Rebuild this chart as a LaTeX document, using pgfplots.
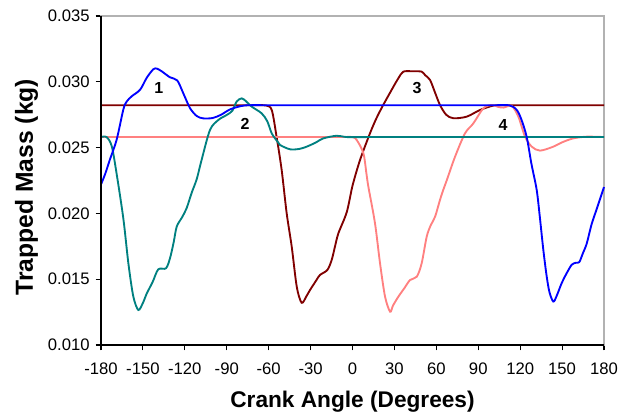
\documentclass[border=0pt]{standalone}
\usepackage{pgfplots}
\pgfplotsset{compat=1.18}
\usepackage{fontspec}
\setmainfont{Liberation Sans}
\definecolor{c1}{RGB}{0,0,255}
\definecolor{c2}{RGB}{0,128,128}
\definecolor{c3}{RGB}{128,0,0}
\definecolor{c4}{RGB}{255,128,128}
\begin{document}
\begin{tikzpicture}[x=1pt,y=1pt]
\useasboundingbox (0,0) rectangle (475.5,312);
\begin{axis}[
  at={(75.75pt,53.25pt)}, anchor=south west,
  scale only axis, width=377.25pt, height=246.75pt,
  xmin=-180, xmax=180, ymin=0.010, ymax=0.035,
  xtick={-180,-150,...,180}, ytick={0.010,0.015,...,0.0351},
  scaled y ticks=false,
  yticklabel style={/pgf/number format/fixed,/pgf/number format/fixed zerofill,/pgf/number format/precision=3, xshift=-1pt},
  /pgf/number format/assume math mode=true,
  tick align=outside, xtick pos=bottom, ytick pos=left,
  major tick length=4pt,
  tick style={black, line width=0.8pt},
  ticklabel style={font=\fontsize{12.5}{14}\selectfont},
  xticklabel style={yshift=-6pt},
  axis line style={draw=gray!60, line width=0.8pt},
  xlabel={\bfseries Crank Angle (Degrees)},
  ylabel={\bfseries Trapped Mass (kg)},
  xlabel style={font=\fontsize{17}{19}\selectfont, at={(axis description cs:0.5,-0.173)}, anchor=center},
  ylabel style={font=\fontsize{18.5}{20}\selectfont, at={(axis description cs:-0.148,0.48)}, anchor=center},
  clip=false,
  every axis plot/.append style={line width=1.4pt, smooth, tension=0.5, mark=none},
]
\addplot[c3] coordinates {(-180,0.02822) (-160,0.02822) (-140,0.02822) (-120,0.02822) (-100,0.02822) (-80,0.02822) (-68,0.02822) (-62,0.0282) (-57.8,0.02786) (-54.3,0.0258) (-50.7,0.0233) (-47.1,0.0200) (-43.5,0.01747) (-39.9,0.01443) (-36.4,0.01321) (-33,0.0137) (-30.4,0.01418) (-26,0.0149) (-23.3,0.01532) (-18,0.0157) (-14.9,0.01646) (-12.5,0.0175) (-10.1,0.01849) (-4.1,0.0201) (0,0.0221) (5.4,0.02406) (12.5,0.02608) (17,0.0272) (22,0.02824) (29.3,0.02963) (33,0.0303) (36.4,0.03077) (43,0.0308) (49.5,0.03077) (52,0.0305) (55.5,0.03014) (59,0.0292) (62.6,0.02824) (67,0.0275) (72.2,0.02723) (81.7,0.02735) (91.3,0.02786) (100.8,0.02819) (108,0.02822) (120,0.02822) (140,0.02822) (160,0.02822) (180,0.02822)};
\addplot[c4] coordinates {(-180,0.0258) (-160,0.0258) (-140,0.0258) (-120,0.0258) (-100,0.0258) (-80,0.0258) (-60,0.0258) (-40,0.0258) (-20,0.0258) (-8,0.0258) (0,0.0258) (3,0.02558) (7.8,0.02457) (10,0.0230) (11.4,0.0220) (16.1,0.01925) (19.7,0.01621) (23.3,0.01367) (26.9,0.01253) (29,0.0130) (32.8,0.01367) (37,0.0143) (41.2,0.01494) (46,0.01519) (49.5,0.01621) (53.1,0.01823) (56,0.0191) (59.1,0.01975) (62.6,0.02102) (65,0.0218) (67.4,0.0225) (73.4,0.02431) (80.5,0.02608) (86.5,0.02684) (93.6,0.02798) (99.6,0.02824) (104,0.0281) (108,0.02804) (114,0.02816) (118.7,0.02735) (123.5,0.02583) (128.3,0.02507) (134.2,0.02477) (143.7,0.02507) (150,0.0254) (158,0.0257) (167.6,0.02583) (180,0.0258)};
\addplot[c2] coordinates {(-180,0.0258) (-176,0.0258) (-172.3,0.0251) (-168.8,0.0230) (-164,0.0196) (-160.4,0.0162) (-156.9,0.0137) (-153.3,0.01266) (-150,0.0132) (-147.3,0.0139) (-143,0.0148) (-139,0.01575) (-133.5,0.01583) (-130.6,0.0166) (-128,0.0178) (-125.8,0.0190) (-122,0.0197) (-118.7,0.0204) (-115,0.0216) (-111.5,0.0226) (-108,0.02406) (-102,0.02634) (-96,0.0271) (-90,0.02748) (-86,0.0278) (-82.9,0.0285) (-79.3,0.02874) (-76,0.0285) (-72.1,0.02811) (-65,0.0276) (-61,0.0270) (-57.8,0.02608) (-54,0.0255) (-51.9,0.0252) (-44.7,0.02487) (-38,0.0249) (-32.8,0.02507) (-26,0.0254) (-20.9,0.0257) (-11.3,0.0259) (-4,0.0258) (10,0.0258) (30,0.0258) (50,0.0258) (70,0.0258) (90,0.0258) (110,0.0258) (130,0.0258) (150,0.0258) (180,0.0258)};
\addplot[c1] coordinates {(-180,0.0222) (-177,0.0230) (-173.6,0.0241) (-168.8,0.0256) (-164,0.0279) (-161.6,0.0285) (-158,0.0289) (-152,0.0294) (-147.3,0.0303) (-142.6,0.03095) (-140,0.0310) (-136.6,0.0308) (-130.6,0.03034) (-125.4,0.0301) (-121,0.0291) (-116.3,0.0280) (-111.5,0.0274) (-106.8,0.02722) (-100,0.02725) (-94,0.0275) (-87.7,0.0279) (-80,0.02815) (-74,0.02822) (-60,0.02822) (-40,0.02822) (-20,0.02822) (0,0.02822) (20,0.02822) (40,0.02822) (60,0.02822) (80,0.02822) (100,0.02822) (112,0.02822) (115,0.0281) (118,0.0278) (121,0.0271) (124.7,0.0258) (128,0.0238) (131.8,0.0218) (134,0.0198) (136.6,0.0172) (139,0.0152) (141,0.0140) (143.7,0.01330) (146,0.0137) (149.7,0.0147) (153,0.0154) (156.9,0.0161) (160,0.01625) (162.3,0.0163) (165,0.0170) (167.6,0.0177) (171.2,0.0192) (175,0.0204) (180,0.0220)};
\draw[black, line width=0.8pt] (rel axis cs:0,1) -- (rel axis cs:0,0) -- (rel axis cs:1,0);
\node[font=\fontsize{12}{14}\selectfont\bfseries] at (axis cs:-138.6,0.0295) {1};
\node[font=\fontsize{12}{14}\selectfont\bfseries] at (axis cs:-76.9,0.0268) {2};
\node[font=\fontsize{12}{14}\selectfont\bfseries] at (axis cs:46.2,0.0295) {3};
\node[font=\fontsize{12}{14}\selectfont\bfseries] at (axis cs:107.7,0.0267) {4};
\end{axis}
\end{tikzpicture}
\end{document}
